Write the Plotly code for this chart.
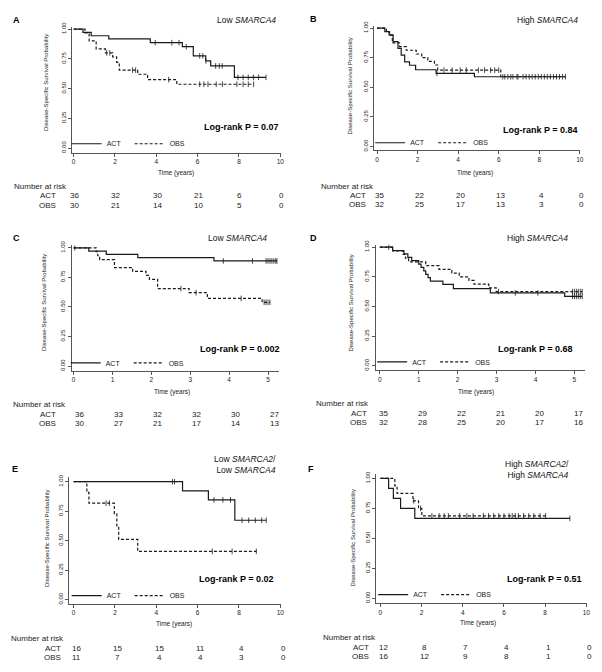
import numpy as np
import plotly.graph_objects as go

W, H = 602, 672
FONT = "Liberation Sans, Arial, sans-serif"
INK = "#1a1a1a"
TXT = "#222222"

# ---------------- data ----------------
# Panel A: Low SMARCA4 (full follow-up)
a_act_t = [0, 0.45, 0.85, 1.7, 3.71, 5.26, 5.79, 6.39, 6.63, 7.78, 9.31]
a_act_s = [1, 0.972, 0.944, 0.917, 0.886, 0.852, 0.775, 0.733, 0.69, 0.594, 0.594]
a_act_c = [3.95, 4.75, 5.1, 5.45, 6.1, 6.25, 6.4, 6.87, 7.05, 7.19, 7.95, 8.2, 8.45, 8.7, 8.95, 9.31]
a_obs_t = [0, 0.55, 0.75, 1.09, 1.54, 1.89, 2.08, 2.21, 3.1, 3.58, 4.99, 8.71]
a_obs_s = [1, 0.967, 0.9, 0.833, 0.8, 0.767, 0.72, 0.655, 0.62, 0.575, 0.536, 0.536]
a_obs_c = [1.6, 1.75, 2.85, 3.0, 4.6, 6.1, 6.3, 6.5, 6.9, 7.2, 7.9, 8.2, 8.45, 8.71]

# Panel B: High SMARCA4 (full follow-up)
b_act_t = [0, 0.38, 0.59, 0.79, 1.03, 1.19, 1.36, 1.6, 1.9, 2.91, 4.8, 9.29]
b_act_s = [1, 0.971, 0.943, 0.886, 0.829, 0.771, 0.714, 0.686, 0.648, 0.617, 0.589, 0.589]
b_act_c = [2.95, 6.2, 6.45, 6.7, 6.95, 7.2, 7.5, 7.8, 8.1, 8.4, 8.7, 9.0, 9.29]
b_obs_t = [0, 0.46, 0.62, 0.75, 1.11, 1.44, 1.93, 2.2, 2.5, 2.83, 2.99, 6.1, 9.3]
b_obs_s = [1, 0.969, 0.938, 0.875, 0.844, 0.813, 0.781, 0.75, 0.719, 0.688, 0.645, 0.589, 0.589]
b_obs_c = [3.3, 3.7, 4.1, 4.4, 5.0, 5.3, 5.6, 5.8, 6.0, 6.3, 6.6, 6.9, 7.35, 7.65, 7.95, 8.25, 8.55, 8.85, 9.15]

# Panel C: Low SMARCA4 (5-year)
c_act_t = [0, 0.39, 0.84, 1.65, 3.61, 5.23]
c_act_s = [1, 0.972, 0.944, 0.917, 0.889, 0.889]
c_act_c = [0.03, 3.85, 4.6, 4.95, 5.0, 5.05, 5.1, 5.15, 5.2, 5.23]
c_obs_t = [0, 0.58, 0.62, 0.67, 1.05, 1.52, 1.86, 1.95, 2.16, 2.97, 3.44, 4.85, 5.05]
c_obs_s = [1, 0.967, 0.933, 0.9, 0.833, 0.8, 0.767, 0.733, 0.655, 0.621, 0.572, 0.539, 0.539]
c_obs_c = [2.76, 3.15, 4.31, 4.9, 4.95, 5.0, 5.05]

# Panel D: High SMARCA4 (5-year)
d_act_t = [0, 0.33, 0.62, 0.72, 0.82, 1.0, 1.06, 1.13, 1.18, 1.24, 1.30, 1.62, 1.89, 2.84, 4.75, 5.2]
d_act_s = [1, 0.971, 0.943, 0.914, 0.886, 0.857, 0.829, 0.8, 0.771, 0.743, 0.714, 0.686, 0.65, 0.614, 0.585, 0.585]
d_act_c = [0.23, 3.48, 4.06, 4.95, 5.0, 5.05, 5.1, 5.15, 5.2]
d_obs_t = [0, 0.33, 0.6, 0.66, 0.74, 1.18, 1.52, 1.85, 2.04, 2.29, 2.42, 2.8, 2.99, 5.2]
d_obs_s = [1, 0.969, 0.938, 0.906, 0.875, 0.844, 0.813, 0.781, 0.75, 0.719, 0.688, 0.656, 0.625, 0.625]
d_obs_c = [3.05, 4.95, 5.0, 5.05, 5.1, 5.15, 5.2]

# Panel E: Low SMARCA2 / Low SMARCA4
e_act_t = [0, 5.27, 6.52, 7.8, 9.32]
e_act_s = [1, 0.923, 0.846, 0.673, 0.673]
e_act_c = [4.78, 4.88, 6.79, 7.22, 7.59, 8.15, 8.47, 8.79, 9.1, 9.32]
e_obs_t = [0, 0.64, 0.74, 1.97, 2.09, 2.18, 3.1, 8.84]
e_obs_s = [1, 0.909, 0.818, 0.727, 0.614, 0.511, 0.409, 0.409]
e_obs_c = [1.57, 1.73, 6.71, 7.67, 8.84]

# Panel F: High SMARCA2 / High SMARCA4
f_act_t = [0, 0.4, 0.63, 0.98, 1.67, 9.2]
f_act_s = [1, 0.917, 0.833, 0.75, 0.667, 0.667]
f_act_c = [9.2]
f_obs_t = [0, 0.7, 0.81, 1.58, 1.85, 2.01, 8.02]
f_obs_s = [1, 0.9375, 0.875, 0.8125, 0.75, 0.6875, 0.6875]
f_obs_c = [1.62, 1.95, 2.5, 2.85, 3.1, 3.3, 3.85, 4.2, 4.5, 5.0, 5.25, 5.5, 5.75, 6.0,
           6.25, 6.4, 6.55, 6.7, 6.95, 7.2, 7.45, 7.75, 8.02]

# Number at risk
risk_t10 = [0, 2, 4, 6, 8, 10]
risk_t5 = [0, 1, 2, 3, 4, 5]
a_risk_act = [36, 32, 30, 21, 6, 0]
a_risk_obs = [30, 21, 14, 10, 5, 0]
b_risk_act = [35, 22, 20, 13, 4, 0]
b_risk_obs = [32, 25, 17, 13, 3, 0]
c_risk_act = [36, 33, 32, 32, 30, 27]
c_risk_obs = [30, 27, 21, 17, 14, 13]
d_risk_act = [35, 29, 22, 21, 20, 17]
d_risk_obs = [32, 28, 25, 20, 17, 16]
e_risk_act = [16, 15, 15, 11, 4, 0]
e_risk_obs = [11, 7, 4, 4, 3, 0]
f_risk_act = [12, 8, 7, 4, 1, 0]
f_risk_obs = [16, 12, 9, 8, 1, 0]

y_tickvals = [0, 0.25, 0.5, 0.75, 1.0]
y_ticktext = ["0.00", "0.25", "0.50", "0.75", "1.00"]

# ---------------- layout geometry (pixels) ----------------
panels = [
    dict(letter="A", title="Low <i>SMARCA4</i>", p="0.07",
         act=(a_act_t, a_act_s, a_act_c), obs=(a_obs_t, a_obs_s, a_obs_c),
         rt=risk_t10, ra=a_risk_act, ro=a_risk_obs, dtick=2,
         x0=74, ppu=20.77, xr=[-0.07, 10.03], y1=24.3, y0=144.3, yr=[-0.039, 1.02],
         let=(17, 15), tit=(279, 15), lr=(282, 123), yt=(47, 78), xt=(177, 170),
         nar=(12, 183), rowx=58, rows=(192, 202), rshift=1, leg=(75, 140)),
    dict(letter="B", title="High <i>SMARCA4</i>", p="0.84",
         act=(b_act_t, b_act_s, b_act_c), obs=(b_obs_t, b_obs_s, b_obs_c),
         rt=risk_t10, ra=b_risk_act, ro=b_risk_obs, dtick=2,
         x0=379, ppu=20.37, xr=[-0.13, 10.03], y1=23.3, y0=142.7, yr=[-0.034, 1.02],
         let=(315, 14), tit=(583, 15), lr=(583, 126), yt=(352, 82), xt=(477, 170),
         nar=(321, 183), rowx=370, rows=(192, 201), rshift=2, leg=(380, 139)),
    dict(letter="C", title="Low <i>SMARCA4</i>", p="0.002",
         act=(c_act_t, c_act_s, c_act_c), obs=(c_obs_t, c_obs_s, c_obs_c),
         rt=risk_t5, ra=c_risk_act, ro=c_risk_obs, dtick=1,
         x0=74, ppu=39.07, xr=[-0.05, 5.27], y1=245, y0=364.3, yr=[-0.039, 1.02],
         let=(17, 235), tit=(270, 235), lr=(283, 347), yt=(45, 300), xt=(173, 390),
         nar=(11, 403), rowx=58, rows=(413, 422), rshift=6, leg=(74, 361)),
    dict(letter="D", title="High <i>SMARCA4</i>", p="0.68",
         act=(d_act_t, d_act_s, d_act_c), obs=(d_obs_t, d_obs_s, d_obs_c),
         rt=risk_t5, ra=d_risk_act, ro=d_risk_obs, dtick=1,
         x0=381.7, ppu=39.12, xr=[-0.11, 5.26], y1=244.3, y0=364, yr=[-0.036, 1.02],
         let=(315, 235), tit=(573, 235), lr=(578, 347), yt=(353, 301), xt=(478, 390),
         nar=(316, 402), rowx=371, rows=(412, 421), rshift=4, leg=(382, 360)),
    dict(letter="E", title="Low <i>SMARCA2</i>/<br>Low <i>SMARCA4</i>", p="0.02",
         act=(e_act_t, e_act_s, e_act_c), obs=(e_obs_t, e_obs_s, e_obs_c),
         rt=risk_t10, ra=e_risk_act, ro=e_risk_obs, dtick=2,
         x0=74, ppu=20.77, xr=[-0.2, 10.03], y1=481, y0=600, yr=[-0.034, 1.04],
         let=(15, 468), tit=(279, 464), lr=(277, 579), yt=(47, 538), xt=(175, 625),
         nar=(9, 639), rowx=63, rows=(649, 658), rshift=3, leg=(75, 596)),
    dict(letter="F", title="High <i>SMARCA2</i>/<br>High <i>SMARCA4</i>", p="0.51",
         act=(f_act_t, f_act_s, f_act_c), obs=(f_obs_t, f_obs_s, f_obs_c),
         rt=risk_t10, ra=f_risk_act, ro=f_risk_obs, dtick=2,
         x0=382.3, ppu=20.7, xr=[-0.19, 10.03], y1=477.7, y0=598.7, yr=[-0.038, 1.036],
         let=(313, 468), tit=(574, 468.5), lr=(587, 579), yt=(355, 538), xt=(480, 624),
         nar=(323, 638), rowx=373, rows=(648, 657), rshift=3, leg=(383, 595)),
]


def px(x):
    return x / W


def py(y):
    return 1 - y / H


def step_at(t, s, times):
    t = np.asarray(t)
    s = np.asarray(s)
    idx = np.searchsorted(t, np.asarray(times), side="right") - 1
    return s[np.clip(idx, 0, len(s) - 1)]


def ann(text, x, y, size, color=TXT, xanchor="center", xref="paper", **kw):
    d = dict(text=text, x=x, y=y, xref=xref, yref="paper", showarrow=False,
             xanchor=xanchor, yanchor="middle", font=dict(size=size, color=color))
    d.update(kw)
    return d


fig = go.Figure()
layout = dict(width=W, height=H, autosize=False,
              margin=dict(l=0, r=0, t=0, b=0),
              paper_bgcolor="white", plot_bgcolor="white",
              font=dict(family=FONT, color=TXT),
              annotations=[])
anns = layout["annotations"]

for i, P in enumerate(panels):
    k = "" if i == 0 else str(i + 1)
    xa, ya = "x" + k, "y" + k
    lg = "legend" + k
    ppy = P["y0"] - P["y1"]
    xd = [px(P["x0"] + P["xr"][0] * P["ppu"]), px(P["x0"] + P["xr"][1] * P["ppu"])]
    ytop = P["y0"] - P["yr"][1] * ppy
    ybot = P["y0"] - P["yr"][0] * ppy
    yd = [py(ybot), py(ytop)]

    for name, (t, s, c), dash in (("ACT", P["act"], "solid"), ("OBS", P["obs"], "3px,2px")):
        fig.add_trace(go.Scatter(x=t, y=s, mode="lines", line_shape="hv",
                                 line=dict(color=INK, width=1.2, dash=dash),
                                 name=name, xaxis=xa, yaxis=ya, legend=lg,
                                 showlegend=True, hoverinfo="skip"))
        fig.add_trace(go.Scatter(x=c, y=step_at(t, s, c), mode="markers",
                                 marker=dict(symbol="line-ns", size=4,
                                             line=dict(color=INK, width=0.8)),
                                 xaxis=xa, yaxis=ya, showlegend=False, hoverinfo="skip"))

    axis_common = dict(showline=True, linecolor="#555", linewidth=1, ticks="outside",
                       ticklen=3, tickwidth=1, tickcolor="#555", showgrid=False,
                       zeroline=False, fixedrange=True)
    layout["xaxis" + k] = dict(domain=xd, range=P["xr"], anchor=ya, tick0=0,
                               dtick=P["dtick"], tickfont=dict(size=6.5, color=TXT),
                               **axis_common)
    layout["yaxis" + k] = dict(domain=yd, range=P["yr"], anchor=xa,
                               tickvals=y_tickvals, ticktext=y_ticktext, tickangle=-90,
                               tickfont=dict(size=6, color=TXT), **axis_common)
    layout[lg] = dict(orientation="h", x=px(P["leg"][0] - 8), y=py(P["leg"][1]),
                      xanchor="left", yanchor="middle", xref="paper", yref="paper",
                      bgcolor="rgba(0,0,0,0)", font=dict(size=7, color=TXT),
                      itemwidth=30, tracegroupgap=0, entrywidth=18)

    anns.append(ann("<b>%s</b>" % P["letter"], px(P["let"][0]), py(P["let"][1]), 9, "#000"))
    anns.append(ann(P["title"], px(P["tit"][0]), py(P["tit"][1]), 8.5, "#111",
                    xanchor="right", align="right"))
    anns.append(ann("<b>Log-rank P = %s</b>" % P["p"], px(P["lr"][0]), py(P["lr"][1]), 9,
                    "#000", xanchor="right"))
    anns.append(ann("Disease-Specific Survival Probability", px(P["yt"][0]), py(P["yt"][1]),
                    6, textangle=-90))
    anns.append(ann("Time (years)", px(P["xt"][0]), py(P["xt"][1]), 6.5))
    # number at risk table
    anns.append(ann("Number at risk", px(P["nar"][0]), py(P["nar"][1]), 8, xanchor="left"))
    for lab, vals, ry in (("ACT", P["ra"], P["rows"][0]), ("OBS", P["ro"], P["rows"][1])):
        anns.append(ann(lab, px(P["rowx"]), py(ry), 8, xanchor="right"))
        for tv, v in zip(P["rt"], vals):
            anns.append(ann(str(v), tv, py(ry), 8, xref=xa, xshift=P["rshift"]))

fig.update_layout(**layout)
fig.write_html("out.html", config={"displayModeBar": False},
               post_script="document.body.style.margin='0';document.body.style.padding='0';")
